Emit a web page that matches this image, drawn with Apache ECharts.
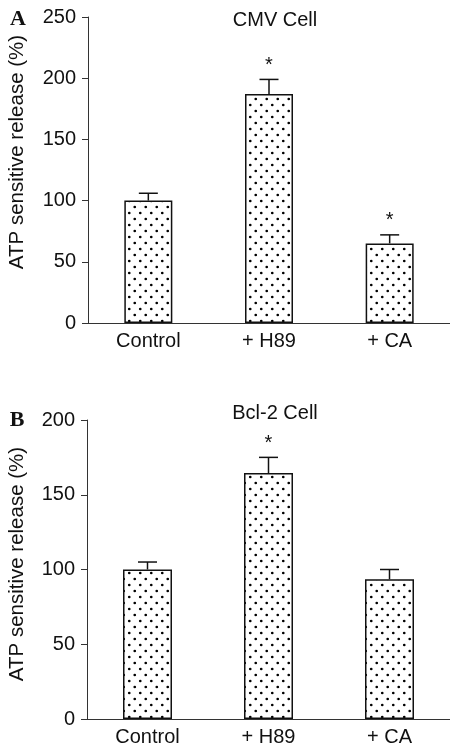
<!DOCTYPE html>
<html>
<head>
<meta charset="utf-8">
<script src="https://cdn.jsdelivr.net/npm/echarts@6/dist/echarts.min.js"></script>
<style>
html, body { margin: 0; padding: 0; background: #fff; }
#Main { width: 450px; height: 748px; }
</style>
</head>
<body>
<div id="Main"></div>
<script>
var categories = ['Control', '+ H89', '+ CA'];
// panel A: CMV Cell
var cmvValues = [100, 187, 65];
var cmvErrors = [6, 12, 7];
var cmvStars = ['', '*', '*'];
var cmvTicks = [0, 50, 100, 150, 200, 250];
// panel B: Bcl-2 Cell
var bclValues = [100, 164.5, 93.5];
var bclErrors = [5, 10.5, 6.5];
var bclStars = ['', '*', ''];
var bclTicks = [0, 50, 100, 150, 200];

//点状填充
var tile = document.createElement('canvas');
tile.width = 11;
tile.height = 12;
var ctx = tile.getContext('2d');
ctx.fillStyle = '#fff';
ctx.fillRect(0, 0, 11, 12);
ctx.fillStyle = '#000';
[[2.75, 3], [8.25, 9]].forEach(function(p) {
	ctx.beginPath();
	ctx.arc(p[0], p[1], 1.35, 0, Math.PI * 2);
	ctx.fill();
});
var dots = { image: tile, repeat: 'repeat' };

var font = 'Liberation Sans, Arial, sans-serif';

function errSeries(idx, values, errors, stars) {
	return {
		type: 'custom',
		xAxisIndex: idx,
		yAxisIndex: idx,
		z: 5,
		data: values.map(function(v, i) { return [i, v, errors[i]]; }),
		renderItem: function(params, api) {
			var x = api.value(0), v = api.value(1), e = api.value(2);
			var p0 = api.coord([x, v]);
			var p1 = api.coord([x, v + e]);
			var st = { stroke: '#111', lineWidth: 1.5 };
			return {
				type: 'group',
				children: [
					{ type: 'line', shape: { x1: p0[0], y1: p0[1], x2: p1[0], y2: p1[1] }, style: st },
					{ type: 'line', shape: { x1: p1[0] - 9.5, y1: p1[1], x2: p1[0] + 9.5, y2: p1[1] }, style: st },
					{ type: 'text', style: { text: stars[params.dataIndex], x: p1[0], y: p1[1] - 4, align: 'center', verticalAlign: 'bottom', font: '20px ' + font, fill: '#111' } }
				]
			};
		}
	};
}

function yAxis(idx, ticks) {
	return {
		type: 'value',
		gridIndex: idx,
		min: ticks[0],
		max: ticks[ticks.length - 1],
		interval: 50,
		splitLine: { show: false },
		axisLine: { show: true, lineStyle: { color: '#333', width: 1 } },
		axisTick: { show: true, length: 6, lineStyle: { color: '#333' } },
		axisLabel: { color: '#111', fontSize: 20, fontFamily: font, margin: 12 }
	};
}

function xAxis(idx) {
	return {
		type: 'category',
		gridIndex: idx,
		data: categories,
		axisLine: { lineStyle: { color: '#333', width: 1 } },
		axisTick: { show: false },
		axisLabel: { color: '#111', fontSize: 20, fontFamily: font, margin: 8 }
	};
}

function label(text, x, y, rot, f) {
	return {
		type: 'text',
		x: x, y: y,
		rotation: rot,
		style: { text: text, align: 'center', verticalAlign: 'middle', font: f, fill: '#111' }
	};
}

var myChart = echarts.init(document.getElementById('Main'));
myChart.setOption({
	animation: false,
	grid: [
		{ left: 88, top: 17, width: 363, height: 306 },
		{ left: 87, top: 420, width: 364, height: 299 }
	],
	xAxis: [xAxis(0), xAxis(1)],
	yAxis: [yAxis(0, cmvTicks), yAxis(1, bclTicks)],
	graphic: [
		label('A', 18, 19, 0, 'bold 22px Liberation Serif, serif'),
		label('B', 17, 420, 0, 'bold 22px Liberation Serif, serif'),
		label('CMV Cell', 275, 20, 0, '20px ' + font),
		label('Bcl-2 Cell', 275, 413, 0, '20px ' + font),
		label('ATP sensitive release (%)', 17, 152, Math.PI / 2, '20.5px ' + font),
		label('ATP sensitive release (%)', 17, 564, Math.PI / 2, '20.5px ' + font)
	],
	series: [
		{
			type: 'bar',
			xAxisIndex: 0,
			yAxisIndex: 0,
			barWidth: 48,
			data: cmvValues,
			itemStyle: { color: dots, borderColor: '#111', borderWidth: 1.5 }
		},
		errSeries(0, cmvValues, cmvErrors, cmvStars),
		{
			type: 'bar',
			xAxisIndex: 1,
			yAxisIndex: 1,
			barWidth: 49,
			data: bclValues,
			itemStyle: { color: dots, borderColor: '#111', borderWidth: 1.5 }
		},
		errSeries(1, bclValues, bclErrors, bclStars)
	]
});
</script>
</body>
</html>
